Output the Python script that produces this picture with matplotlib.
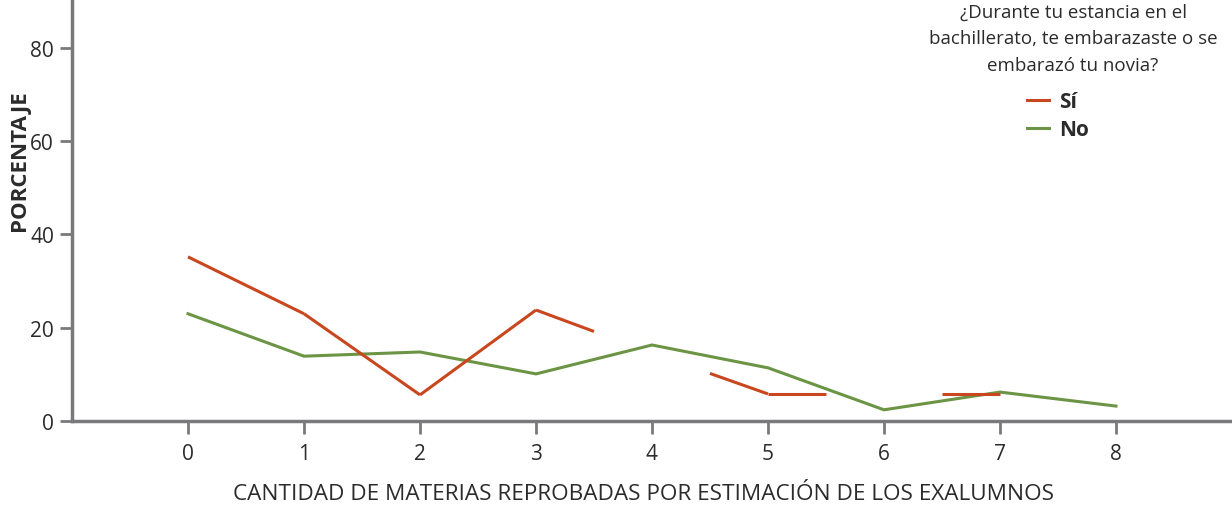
import numpy as np
import matplotlib
matplotlib.use("Agg")
import matplotlib.pyplot as plt
from matplotlib.lines import Line2D

# datos
materias = [0, 1, 2, 3, 4, 5, 6, 7, 8]
si_valores = [35.2, 23.0, 5.6, 23.8, 14.6, 5.8, 5.8, 5.8, np.nan]
si_visible = [True, True, True, True, False, True, False, True, False]
no_valores = [23.0, 13.9, 14.8, 10.1, 16.3, 11.4, 2.4, 6.2, 3.2]

titulo_leyenda = "¿Durante tu estancia en el\nbachillerato, te embarazaste o se\nembarazó tu novia?"
etiquetas = ["Sí", "No"]

color_si = "#C9471F"
color_no = "#6B9545"
gris = "#7A7A7C"
texto = "#2B2B2B"

plt.rcParams["font.family"] = ["Open Sans", "DejaVu Sans"]

fig = plt.figure(figsize=(12.32, 5.06), dpi=100)
ax = fig.add_axes([72 / 1232, 84 / 506, 1 - 72 / 1232, 1 - 84 / 506])

# linea "No": completa
ax.plot(materias, no_valores, color=color_no, linewidth=2.2, solid_joinstyle="miter")

# linea "Sí": los tramos junto a puntos ocultos se dibujan solo hasta la mitad
x = np.array(materias, dtype=float)
y = np.array(si_valores, dtype=float)
for i in range(len(x) - 1):
    if np.isnan(y[i]) or np.isnan(y[i + 1]):
        continue
    a, b = si_visible[i], si_visible[i + 1]
    if not a and not b:
        continue
    xm = (x[i] + x[i + 1]) / 2
    ym = (y[i] + y[i + 1]) / 2
    if a and b:
        xs, ys = [x[i], x[i + 1]], [y[i], y[i + 1]]
    elif a:
        xs, ys = [x[i], xm], [y[i], ym]
    else:
        xs, ys = [xm, x[i + 1]], [ym, y[i + 1]]
    ax.plot(xs, ys, color=color_si, linewidth=2.2, solid_capstyle="butt")

ax.set_xlim(-1, 9)
ax.set_ylim(0, 90.5)
ax.set_xticks(materias)
ax.set_yticks([0, 20, 40, 60, 80])

for s in ["top", "right"]:
    ax.spines[s].set_visible(False)
for s in ["left", "bottom"]:
    ax.spines[s].set_color(gris)
    ax.spines[s].set_linewidth(2.5)
ax.tick_params(colors=gris, width=2, length=9, labelsize=15, labelcolor=texto)
ax.tick_params(axis="x", pad=7)
ax.tick_params(axis="y", pad=4)

ax.set_xlabel("CANTIDAD DE MATERIAS REPROBADAS POR ESTIMACIÓN DE LOS EXALUMNOS",
              fontsize=16.2, color=texto)
ax.xaxis.set_label_coords(0.4925, -0.148)
fig.text(20 / 1232, 1 - 161 / 506, "PORCENTAJE", rotation=90, fontsize=16,
         fontweight="bold", color=texto, ha="center", va="center")

fig.text(1073 / 1232, 1 - 4 / 506, titulo_leyenda, ha="center", va="top",
         fontsize=13.5, color=texto, linespacing=1.6)
handles = [Line2D([], [], color=color_si, linewidth=2.2),
           Line2D([], [], color=color_no, linewidth=2.2)]
leg = fig.legend(handles, etiquetas, loc="upper left",
                 bbox_to_anchor=(1027 / 1232, 1 - 92 / 506), frameon=False,
                 handlelength=1.05, handletextpad=0.5, labelspacing=0.35,
                 prop={"size": 15, "weight": "bold"}, borderpad=0, borderaxespad=0)
for t in leg.get_texts():
    t.set_color(texto)

fig.savefig("out.png", dpi=100)
